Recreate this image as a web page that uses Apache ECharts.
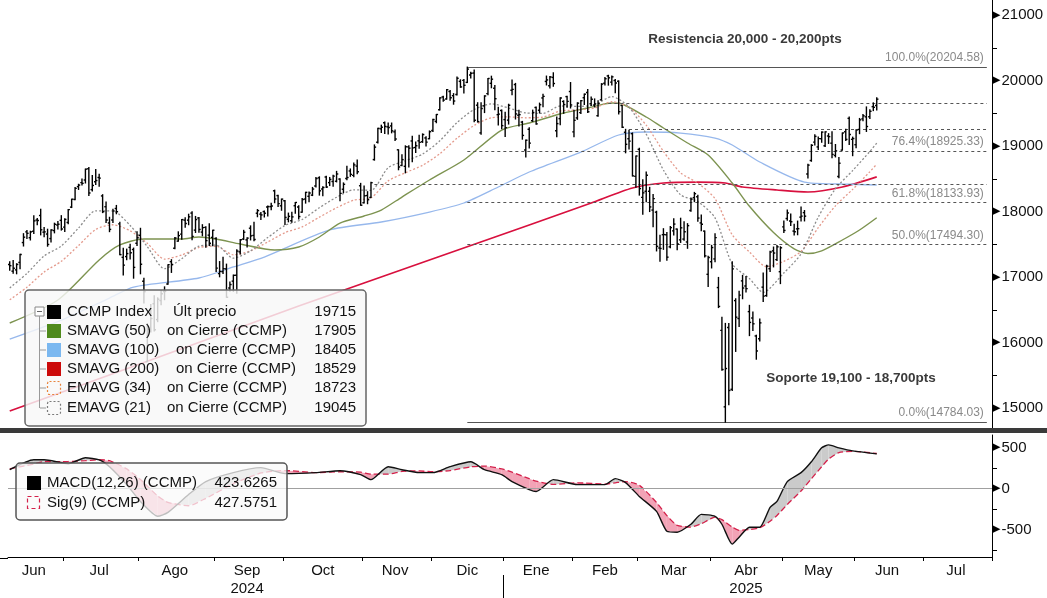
<!DOCTYPE html>
<html>
<head>
<meta charset="utf-8">
<title>CCMP Index</title>
<script src="https://cdn.jsdelivr.net/npm/echarts@6/dist/echarts.min.js"></script>
<style>
html,body{margin:0;padding:0;background:#fff;}
#chart{width:1047px;height:598px;}
</style>
</head>
<body>
<div id="chart"></div>
<script>
var FONT = "'Liberation Sans', Arial, sans-serif";

// mercado cerrado (NASDAQ)
var holidays = ['2024-06-19','2024-07-04','2024-09-02','2024-11-28','2024-12-25','2025-01-01',
    '2025-01-09','2025-01-20','2025-02-17','2025-04-18','2025-05-26','2025-06-19','2025-07-04'];
var monthNames = ['Ene','Feb','Mar','Abr','May','Jun','Jul','Ago','Sep','Oct','Nov','Dic'];
var yearUnder = {'2024-09':'2024','2025-04':'2025'};

// precios diarios CCMP, 6 jun 2024 -> 10 jun 2025
var openPx = [
    17190,17089,17109,17223,17526,17689,17600,17699,17870,17939,17685,17656,17587,17709,17793,17865,
    17762,17833,18067,18184,18380,18441,18481,18652,18334,18454,18519,18238,18073,17825,17871,18046,17811,17300,17312,17452,17420,17515,
    17637,16936,15708,16183,16592,16350,16640,16778,16894,17234,17440,17548,17655,17868,17868,17976,17716,17902,17686,17758,17639,17605,
    17589,17052,17082,17124,16832,16937,17026,17384,17580,17567,17745,17635,17974,17960,17999,18070,18075,18316,18243,18087,
    18164,17882,17860,18088,18070,17990,18190,18232,18250,18390,18515,18343,18527,18441,18458,18462,18495,18340,18505,18619,18552,18693,18393,
    18134,18244,18214,18793,19057,19262,19354,19292,19307,19216,18942,18704,18690,18987,19077,18977,19079,19065,19123,19111,
    19236,19376,19553,19749,19718,19832,19768,19787,19987,20002,19971,20085,20114,19623,19200,19613,19800,19957,19881,19478,19543,
    19403,19395,19851,19938,19469,19365,18938,19255,19386,19588,19546,19734,19986,19919,20047,19234,19418,19680,19754,19832,
    19215,19429,19510,19737,19816,19645,19625,19463,19705,19957,20070,19975,20000,19989,19619,19210,19111,19188,18537,
    18949,18216,18309,18309,18022,17990,17443,17646,17645,17461,17705,17732,17567,17579,17535,18016,18212,18226,17826,17701,17041,
    17233,17276,16839,16185,15018,16230,15286,16640,16366,16941,16863,16472,16374,16100,16058,16845,16716,17127,17400,17266,17081,
    17765,17893,17855,17701,17735,17914,17983,18573,18779,19060,18986,19111,19003,19153,19043,18856,18534,18937,19217,19422,19102,
    19020,19253,19414,19445,19447,19601,19618
];
var highPx = [
    17234,17252,17203,17346,17662,17712,17699,17936,17895,18035,17757,17730,17720,17822,17847,17937,
    17891,18029,18188,18367,18416,18497,18648,18671,18551,18641,18568,18257,18147,17912,18034,18093,17836,17440,17426,17502,17442,17691,
    17744,16982,16289,16581,16714,16682,16796,16850,17188,17265,17602,17690,17877,17904,17959,17996,17925,17908,17799,17768,17813,17714,
    17601,17236,17300,17197,16925,17030,17416,17571,17713,17600,17781,17836,18030,17985,18008,18086,18128,18326,18247,18190,
    18169,17976,17990,18138,18089,18198,18294,18299,18368,18518,18530,18378,18540,18520,18554,18613,18499,18437,18690,18650,18740,18785,18430,
    18390,18303,18445,19017,19270,19318,19368,19352,19351,19244,18942,18867,19003,19004,19148,19061,19164,19185,19143,19230,
    19407,19482,19737,19760,19863,19847,19800,20055,20011,20016,20205,20125,20161,19661,19660,19767,20031,20066,19925,19590,19550,
    19517,19638,20007,19956,19546,19376,19093,19277,19548,19595,19655,19789,20068,20060,20118,19441,19735,19690,19761,19969,
    19545,19660,19695,19795,19862,19750,19719,19690,19952,20045,20080,20068,20014,19995,19620,19255,19239,19199,18847,
    18966,18484,18602,18369,18261,18004,17636,17738,17680,17771,17891,17732,17898,17844,17815,18208,18292,18250,17945,17702,17317,
    17483,17660,16994,16385,16292,16289,17232,16668,16781,17025,17008,16568,16465,16112,16360,17063,17180,17392,17458,17481,17462,
    17854,18024,17963,17804,17854,18070,18015,18721,19020,19173,19139,19216,19216,19189,19216,19023,18826,19199,19254,19442,19136,
    19249,19421,19480,19597,19553,19659,19735
];
var lowPx = [
    17104,17056,17049,17128,17473,17588,17565,17665,17796,17643,17615,17470,17534,17674,17733,17716,
    17696,17815,18060,18180,18337,18405,18435,18246,18315,18413,18384,17983,17832,17692,17832,17965,17338,17031,17264,17276,16982,17481,
    17049,16604,15708,16162,16177,16318,16576,16653,16888,17070,17432,17547,17575,17760,17798,17569,17680,17683,17629,17454,17480,17476,
    17084,17003,17052,16690,16781,16781,16752,17352,17572,17460,17566,17555,17920,17879,17916,17930,18028,18134,18078,18019,
    17800,17842,17835,17975,17886,17989,18128,18150,18243,18374,18250,18241,18365,18396,18385,18452,18165,18288,18486,18537,18532,18575,18095,
    18129,18119,18214,18784,19046,19206,19191,19184,19201,19084,18637,18700,18590,18680,18760,18902,18966,19055,18999,19111,
    19222,19355,19550,19682,19715,19700,19638,19780,19896,19808,19969,20040,19370,19366,19180,19510,19783,19889,19554,19319,19264,
    19144,19335,19783,19412,19306,19104,18832,18970,19376,19331,19504,19598,19932,19884,19912,19142,19325,19499,19590,19580,
    19141,19407,19496,19633,19511,19620,19596,19454,19700,19931,19929,19930,19814,19489,19282,18896,18954,18542,18372,
    18250,17957,18150,17999,17768,17398,17239,17422,17256,17446,17640,17416,17528,17562,17438,18003,18150,17853,17707,17307,16854,
    17138,17232,16533,15576,14784,15049,15267,15864,16244,16668,16771,16105,16185,15745,16023,16628,16707,17085,17154,17251,16899,
    17680,17866,17788,17642,17645,17857,17856,18510,18767,19016,18946,19057,18991,19039,18821,18833,18514,18937,19084,19022,18852,
    18975,19188,19385,19222,19419,19540,19550
];
var closePx = [
    17173,17133,17192,17343,17608,17667,17689,17857,17862,17721,17689,17497,17718,17805,17806,17733,
    17879,18029,18188,18353,18403,18430,18647,18283,18398,18473,18509,17997,17871,17727,18008,17997,17342,17182,17358,17370,17147,17599,
    17195,16776,16200,16367,16196,16661,16745,16781,17188,17192,17595,17632,17877,17817,17919,17620,17877,17726,17754,17556,17516,17714,
    17136,17085,17128,16691,16885,17026,17396,17570,17684,17593,17628,17573,18014,17948,17974,18075,18083,18191,18120,18189,
    17910,17926,17918,18138,17923,18183,18292,18282,18343,18503,18316,18367,18374,18490,18540,18573,18277,18415,18519,18567,18712,18608,18096,
    18240,18180,18440,18983,19269,19287,19299,19282,19231,19108,18680,18792,18988,18967,18972,19004,19055,19175,19060,19218,
    19404,19481,19735,19701,19860,19737,19687,20034,19902,19927,20174,20109,19393,19372,19573,19764,20031,20020,19722,19487,19311,
    19280,19622,19865,19490,19479,19162,19088,19044,19511,19338,19630,19757,20009,20054,19954,19342,19734,19633,19681,19627,
    19392,19654,19692,19791,19523,19714,19643,19649,19945,20027,20041,20056,19962,19524,19287,19026,19075,18544,18847,
    18350,18285,18553,18070,18196,17468,17436,17648,17303,17754,17808,17505,17751,17692,17784,18189,18272,17900,17805,17323,17299,
    17450,17601,16551,15588,15603,15268,17125,16387,16724,16832,16823,16307,16286,15871,16300,16708,17166,17383,17366,17461,17446,
    17711,17978,17844,17690,17738,17929,17929,18708,19011,19147,19112,19212,19215,19143,18873,18926,18737,19199,19101,19176,19114,
    19243,19399,19461,19298,19530,19591,19715
];

// medias: [sesion, valor]
var sma50 = [[0,16298],[14,16649],[26,17260],[32,17489],[39,17580],[50,17580],[55,17611],[60,17580],[67,17504],
    [77,17412],[84,17458],[90,17611],[96,17824],[103,17931],[108,18023],[114,18221],[122,18481],[132,18786],
    [143,19244],[151,19351],[161,19504],[168,19580],[175,19656],[178,19641],[185,19443],[190,19275],[197,19046],
    [203,18863],[210,18435],[215,18080],[222,17680],[228,17430],[232,17360],[236,17400],[242,17565],[247,17718],[252,17905]];
var sma100 = [[0,16053],[15,16343],[29,16679],[36,16847],[55,16985],[65,17153],[74,17305],[93,17718],[108,17840],
    [122,17992],[132,18130],[142,18374],[151,18603],[166,18908],[177,19168],[185,19214],[195,19198],[205,19122],
    [210,19015],[218,18756],[231,18450],[242,18420],[252,18405]];
var sma200 = [[0,14954],[41,15733],[84,16557],[122,17260],[151,17794],[169,18130],[181,18359],[190,18435],
    [200,18450],[208,18435],[213,18374],[223,18328],[232,18298],[242,18374],[252,18529]];
var ema34 = [[0,16652],[5,16844],[10,17077],[15,17240],[20,17481],[25,17726],[30,17798],[35,17706],[40,17514],
    [45,17273],[50,17336],[55,17451],[60,17469],[65,17339],[70,17400],[75,17535],[80,17677],[85,17765],[90,17914],
    [95,18057],[100,18173],[105,18208],[110,18468],[115,18592],[120,18706],[125,18882],[130,19118],[135,19315],
    [140,19431],[145,19444],[150,19431],[155,19442],[160,19534],[165,19550],[170,19581],[175,19676],[180,19593],
    [185,19318],[190,18918],[195,18590],[200,18434],[205,18195],[210,17645],[215,17382],[220,17157],[225,17240],
    [230,17391],[235,17753],[240,18087],[245,18338],[250,18607],[252,18723]];
var ema21 = [[0,16834],[5,17055],[10,17322],[15,17474],[20,17748],[25,18011],[30,18007],[35,17787],[40,17463],
    [45,17127],[50,17280],[55,17472],[60,17488],[65,17287],[70,17399],[75,17602],[80,17787],[85,17878],[90,18058],
    [95,18218],[100,18331],[105,18323],[110,18669],[115,18774],[120,18877],[125,19079],[130,19358],[135,19557],
    [140,19643],[145,19580],[150,19505],[155,19498],[160,19611],[165,19604],[170,19629],[175,19754],[180,19594],
    [185,19182],[190,18633],[195,18255],[200,18152],[205,17902],[210,17199],[215,16977],[219,16766],[225,17062],
    [230,17354],[235,17915],[240,18347],[245,18625],[250,18917],[252,19045]];

// MACD(12,26) y senal(9)
var macd = [[0,230],[7,351],[10,351],[17,303],[22,376],[26,351],[29,267],[34,48],[38,-158],[43,-339],[46,-291],
    [52,-73],[57,85],[65,194],[73,255],[80,182],[89,194],[96,218],[102,170],[105,109],[110,267],[114,230],[119,194],
    [123,194],[128,267],[134,327],[138,230],[143,170],[146,85],[151,-12],[153,-36],[158,109],[165,48],[173,48],
    [176,121],[179,73],[183,-97],[188,-279],[191,-521],[194,-533],[198,-436],[201,-315],[205,-339],[207,-436],
    [210,-679],[212,-594],[215,-473],[218,-473],[221,-230],[223,-158],[226,85],[230,194],[233,327],[236,497],
    [238,533],[241,497],[245,460],[252,424]];
var signal = [[0,240],[7,300],[10,330],[17,330],[22,340],[26,352],[29,340],[34,240],[38,110],[43,-90],[46,-170],
    [52,-210],[57,-120],[65,60],[73,190],[80,220],[89,195],[96,205],[102,200],[105,175],[110,175],[114,210],[119,215],
    [123,205],[128,220],[134,265],[138,275],[143,240],[146,200],[151,120],[153,90],[158,50],[165,70],[173,55],
    [176,70],[179,85],[183,40],[188,-170],[191,-330],[194,-450],[198,-470],[201,-430],[205,-350],[207,-380],
    [210,-470],[212,-510],[215,-500],[218,-480],[221,-400],[223,-330],[226,-194],[230,-30],[233,120],[236,267],
    [238,360],[241,440],[245,455],[252,428]];

// niveles horizontales (Fibonacci y otros)
var levelVals  = [20204.58, 19656, 19259, 18925.33, 18420, 18133.93, 17494.30, 14784.03];
var levelFrom  = ['2024-12-16','2025-02-18','2025-02-26','2024-12-16','2024-11-06','2024-12-16','2024-12-16','2024-12-16'];
var levelText  = ['100.0%(20204.58)','','','76.4%(18925.33)','','61.8%(18133.93)','50.0%(17494.30)','0.0%(14784.03)'];
var levelSolid = [true,false,false,false,false,false,false,true];

var priceTicks  = [15500,16500,17500,18500,19500,20500];
var priceLabels = [15000,16000,17000,18000,19000,20000,21000];
var macdTicks   = [-750,-250,250];
var macdLabels  = [-500,0,500];

var legendNames = ['CCMP Index','SMAVG (50)','SMAVG (100)','SMAVG (200)','EMAVG (34)','EMAVG (21)'];
var legendMid   = ['Últ precio','on Cierre (CCMP)','on Cierre (CCMP)','on Cierre (CCMP)','on Cierre (CCMP)','on Cierre (CCMP)'];
var legendVals  = ['19715','17905','18405','18529','18723','19045'];
var macdNames   = ['MACD(12,26) (CCMP)','Sig(9) (CCMP)'];
var macdLegVals = ['423.6265','427.5751'];

// sesiones (dias habiles) del eje
var days = [];
(function () {
    var d = new Date(Date.UTC(2024, 5, 6)), end = Date.UTC(2025, 6, 29);
    while (d.getTime() <= end) {
        var wd = d.getUTCDay(), s = d.toISOString().slice(0, 10);
        if (wd !== 0 && wd !== 6 && holidays.indexOf(s) < 0) days.push(s);
        d.setUTCDate(d.getUTCDate() + 1);
    }
})();
var monthFirst = {}, monthLast = {};
days.forEach(function (s, i) {
    var k = s.slice(0, 7);
    if (!(k in monthFirst)) monthFirst[k] = i;
    monthLast[k] = i;
});
var tickAt = {}, labelAt = {};
Object.keys(monthFirst).forEach(function (k) {
    if (monthFirst[k] > 0) tickAt[monthFirst[k]] = true;
    labelAt[Math.floor((monthFirst[k] + monthLast[k]) / 2)] = k;
});
var lastIdx = days.length - 1;

var levelLines = levelVals.map(function (v, i) {
    return [{
        coord: [days.indexOf(levelFrom[i]), v],
        lineStyle: levelSolid[i] ? {color: '#555', width: 1.2, type: 'solid'} : {color: '#555', width: 1, type: [3, 3]},
        label: {show: levelText[i] !== '', formatter: levelText[i]}
    }, {coord: [lastIdx - 1, v]}];
});

var chart = echarts.init(document.getElementById('chart'));

function maLine(name, data, color, width, dotted) {
    return {
        name: name, type: 'line', xAxisIndex: 0, yAxisIndex: 0, data: data,
        showSymbol: false, smooth: 0.25, z: 3, silent: true,
        lineStyle: {color: color, width: width, type: dotted ? [2, 2] : 'solid'}
    };
}

var axisRich = {t: {fontSize: 11, color: '#000', fontFamily: 'DejaVu Sans'},
    n: {fontSize: 15, color: '#111', fontFamily: FONT, padding: [0, 0, 0, 1]}};

var option = {
    animation: false,
    backgroundColor: '#fff',
    grid: [
        {left: 8, right: 55, top: 0, height: 428},
        {left: 8, right: 55, top: 435, height: 123}
    ],
    xAxis: [
        {type: 'category', gridIndex: 0, data: days, boundaryGap: true,
            axisLine: {show: false}, axisTick: {show: false}, axisLabel: {show: false}, splitLine: {show: false}},
        {type: 'category', gridIndex: 1, data: days, boundaryGap: true,
            axisLine: {show: true, onZero: false, lineStyle: {color: '#000', width: 1}},
            axisTick: {show: true, length: 4, lineStyle: {color: '#000'},
                interval: function (i) { return !!tickAt[i]; }},
            axisLabel: {
                margin: 5, fontFamily: FONT, fontSize: 15, color: '#111', lineHeight: 18,
                interval: function (i) { return labelAt[i] !== undefined; },
                formatter: function (v, i) {
                    var k = labelAt[i];
                    if (!k) return '';
                    var s = monthNames[+k.slice(5, 7) - 1];
                    if (yearUnder[k]) s += '\n' + yearUnder[k];
                    return s;
                }
            },
            splitLine: {show: false}}
    ],
    yAxis: [
        {type: 'value', gridIndex: 0, position: 'right', min: 14695, max: 21229,
            axisLine: {show: true, lineStyle: {color: '#000', width: 1}},
            axisTick: {show: true, customValues: priceTicks, length: 5, lineStyle: {color: '#000'}},
            axisLabel: {customValues: priceLabels, margin: 0,
                formatter: function (v) { return '{t|\u25B6}{n|' + v + '}'; }, rich: axisRich},
            splitLine: {show: false}},
        {type: 'value', gridIndex: 1, position: 'right', min: -836, max: 654,
            axisLine: {show: true, lineStyle: {color: '#000', width: 1}},
            axisTick: {show: true, customValues: macdTicks, length: 5, lineStyle: {color: '#000'}},
            axisLabel: {customValues: macdLabels, margin: 0,
                formatter: function (v) { return '{t|\u25B6}{n|' + v + '}'; }, rich: axisRich},
            splitLine: {show: false}}
    ],
    series: [
        maLine('SMAVG (200)', sma200, '#d8103e', 1.7, false),
        maLine('SMAVG (100)', sma100, '#97b8ec', 1.3, false),
        maLine('SMAVG (50)', sma50, '#7d9350', 1.4, false),
        maLine('EMAVG (34)', ema34, '#e49a8c', 1.3, true),
        maLine('EMAVG (21)', ema21, '#8c8c8c', 1.3, true),
        {
            name: 'CCMP Index', type: 'custom', xAxisIndex: 0, yAxisIndex: 0, z: 5, silent: true,
            data: closePx.map(function (c, i) { return [i, openPx[i], highPx[i], lowPx[i], c]; }),
            encode: {x: 0, y: [1, 2, 3, 4]},
            renderItem: function (params, api) {
                var i = api.value(0);
                var pO = api.coord([i, api.value(1)]), pH = api.coord([i, api.value(2)]);
                var pL = api.coord([i, api.value(3)]), pC = api.coord([i, api.value(4)]);
                var w = api.size([1, 0])[0] * 0.5;
                var st = {stroke: '#000', lineWidth: 1.4};
                return {type: 'group', children: [
                    {type: 'line', shape: {x1: pH[0], y1: pH[1] - 0.5, x2: pL[0], y2: pL[1] + 0.5}, style: st},
                    {type: 'line', shape: {x1: pO[0] - w, y1: pO[1], x2: pO[0], y2: pO[1]}, style: st},
                    {type: 'line', shape: {x1: pC[0], y1: pC[1], x2: pC[0] + w, y2: pC[1]}, style: st}
                ]};
            },
            markLine: {
                silent: true, symbol: ['none', 'none'], animation: false,
                label: {position: 'insideEndTop', fontFamily: FONT, fontSize: 12, color: '#8a8a8a', distance: 3},
                data: levelLines
            }
        },
        {
            name: 'fill', type: 'custom', xAxisIndex: 1, yAxisIndex: 1, z: 2, silent: true,
            data: macd.map(function (p, k) { return [p[0], p[1], signal[k][1]]; }),
            encode: {x: 0, y: [1, 2]},
            renderItem: function (params, api) {
                var k = params.dataIndex;
                if (k >= macd.length - 1) return null;
                var x0 = macd[k][0], x1 = macd[k + 1][0];
                var m0 = macd[k][1], m1 = macd[k + 1][1], s0 = signal[k][1], s1 = signal[k + 1][1];
                var d0 = m0 - s0, d1 = m1 - s1, polys = [];
                if (d0 * d1 >= 0) {
                    polys.push({p: [api.coord([x0, m0]), api.coord([x1, m1]), api.coord([x1, s1]), api.coord([x0, s0])], neg: d0 + d1 < 0});
                } else {
                    var t = d0 / (d0 - d1), xc = x0 + t * (x1 - x0), yc = m0 + t * (m1 - m0);
                    polys.push({p: [api.coord([x0, m0]), api.coord([xc, yc]), api.coord([x0, s0])], neg: d0 < 0});
                    polys.push({p: [api.coord([xc, yc]), api.coord([x1, m1]), api.coord([x1, s1])], neg: d1 < 0});
                }
                return {type: 'group', children: polys.map(function (q) {
                    return {type: 'polygon', shape: {points: q.p}, style: {fill: q.neg ? '#f2a3b6' : '#cbcbcb'}};
                })};
            }
        },
        {
            name: 'Sig(9)', type: 'line', xAxisIndex: 1, yAxisIndex: 1, data: signal, z: 3,
            showSymbol: false, smooth: 0.2, silent: true,
            lineStyle: {color: '#d4204a', width: 1.3, type: [6, 3]}
        },
        {
            name: 'MACD', type: 'line', xAxisIndex: 1, yAxisIndex: 1, data: macd, z: 4,
            showSymbol: false, smooth: 0.2, silent: true,
            lineStyle: {color: '#111', width: 1.4},
            markLine: {silent: true, symbol: ['none', 'none'], label: {show: false},
                lineStyle: {color: '#a0a0a0', width: 1, type: 'solid'}, data: [{yAxis: 0}]}
        }
    ]
};
chart.setOption(option);

// decoracion: leyendas, textos, separadores
var rowsY = [312, 331, 350, 369, 388, 408];
var midX = [173, 167, 176, 176, 167, 167];
var iconFill = ['#000', '#4f8a1c', '#7bb8f0', '#cc0a0a', null, null];
var iconDot = [null, null, null, null, '#e8843c', '#7a7a7a'];
var g = [];
g.push({type: 'rect', z: 100, shape: {x: 0, y: 428, width: 1047, height: 5}, style: {fill: '#3a3a3a'}});
g.push({type: 'line', z: 100, shape: {x1: 0, y1: 558.5, x2: 8, y2: 558.5}, style: {stroke: '#000', lineWidth: 1}});
var jan = monthFirst['2025-01'];
var xa = chart.convertToPixel({xAxisIndex: 1}, jan), xb = chart.convertToPixel({xAxisIndex: 1}, jan - 1);
var xs = Math.round((xa + xb) / 2) + 0.5;
g.push({type: 'line', z: 100, shape: {x1: xs, y1: 575, x2: xs, y2: 598}, style: {stroke: '#000', lineWidth: 1}});

g.push({type: 'rect', z: 100, shape: {x: 25, y: 290, width: 341, height: 136, r: 4},
    style: {fill: 'rgba(248,248,248,0.82)', stroke: '#666', lineWidth: 1.5}});
g.push({type: 'rect', z: 101, shape: {x: 35, y: 307, width: 9, height: 9}, style: {fill: '#fff', stroke: '#888', lineWidth: 1}});
g.push({type: 'line', z: 101, shape: {x1: 37, y1: 311.5, x2: 42, y2: 311.5}, style: {stroke: '#666', lineWidth: 1}});
g.push({type: 'line', z: 101, shape: {x1: 39.5, y1: 316, x2: 39.5, y2: 408}, style: {stroke: '#999', lineWidth: 1}});
rowsY.forEach(function (y, i) {
    if (i > 0) g.push({type: 'line', z: 101, shape: {x1: 40, y1: y, x2: 46, y2: y}, style: {stroke: '#999', lineWidth: 1}});
    if (iconFill[i]) {
        g.push({type: 'rect', z: 101, shape: {x: 47, y: y - 7, width: 14, height: 14}, style: {fill: iconFill[i]}});
    } else {
        g.push({type: 'rect', z: 101, shape: {x: 47.5, y: y - 6.5, width: 13, height: 13, r: 2},
            style: {fill: 'none', stroke: iconDot[i], lineWidth: 1.2, lineDash: [2, 2]}});
    }
    g.push({type: 'text', z: 102, style: {text: legendNames[i], x: 67, y: y, font: '15px ' + FONT, fill: '#111',
        textAlign: 'left', textVerticalAlign: 'middle', align: 'left', verticalAlign: 'middle'}});
    g.push({type: 'text', z: 102, style: {text: legendMid[i], x: midX[i], y: y, font: '15px ' + FONT, fill: '#111',
        textAlign: 'left', textVerticalAlign: 'middle', align: 'left', verticalAlign: 'middle'}});
    g.push({type: 'text', z: 102, style: {text: legendVals[i], x: 356, y: y, font: '15px ' + FONT, fill: '#111',
        textAlign: 'right', textVerticalAlign: 'middle', align: 'right', verticalAlign: 'middle'}});
});

g.push({type: 'rect', z: 100, shape: {x: 16, y: 463, width: 271, height: 57, r: 4},
    style: {fill: 'rgba(250,250,250,0.75)', stroke: '#555', lineWidth: 1.5}});
g.push({type: 'rect', z: 101, shape: {x: 27, y: 476, width: 14, height: 14}, style: {fill: '#000'}});
g.push({type: 'rect', z: 101, shape: {x: 27.5, y: 496.5, width: 12, height: 12},
    style: {fill: 'none', stroke: '#d4204a', lineWidth: 1.2, lineDash: [4, 3]}});
[483, 503].forEach(function (y, i) {
    g.push({type: 'text', z: 102, style: {text: macdNames[i], x: 47, y: y, font: '15px ' + FONT, fill: '#111',
        textAlign: 'left', textVerticalAlign: 'middle', align: 'left', verticalAlign: 'middle'}});
    g.push({type: 'text', z: 102, style: {text: macdLegVals[i], x: 277, y: y, font: '15px ' + FONT, fill: '#111',
        textAlign: 'right', textVerticalAlign: 'middle', align: 'right', verticalAlign: 'middle'}});
});

g.push({type: 'text', z: 102, style: {text: 'Resistencia 20,000 - 20,200pts', x: 745, y: 39,
    font: 'bold 13.5px ' + FONT, fill: '#3a3a3a', textAlign: 'center', textVerticalAlign: 'middle', align: 'center', verticalAlign: 'middle'}});
g.push({type: 'text', z: 102, style: {text: 'Soporte 19,100 - 18,700pts', x: 851, y: 378,
    font: 'bold 13.5px ' + FONT, fill: '#3a3a3a', textAlign: 'center', textVerticalAlign: 'middle', align: 'center', verticalAlign: 'middle'}});

chart.setOption({graphic: g});
</script>
</body>
</html>
